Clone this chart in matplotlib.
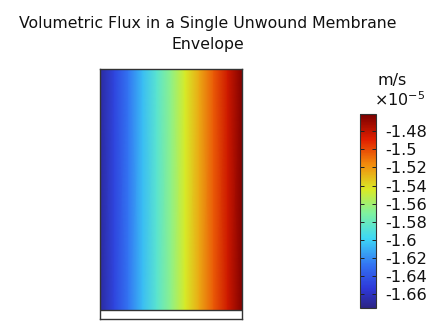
import numpy as np
import matplotlib
matplotlib.use('Agg')
import matplotlib.pyplot as plt
from matplotlib.colors import LinearSegmentedColormap

# flux across the envelope width (x 1e-5 m/s), read left to right
x_frac = [0.0, 0.1, 0.2, 0.3, 0.4, 0.5, 0.6, 0.7, 0.8, 0.9, 1.0]
flux = [-1.668, -1.648, -1.627, -1.606, -1.586, -1.566, -1.545, -1.525, -1.504, -1.484, -1.463]
cb_ticks = [-1.48, -1.5, -1.52, -1.54, -1.56, -1.58, -1.6, -1.62, -1.64, -1.66]
cb_labels = ['-1.48', '-1.5', '-1.52', '-1.54', '-1.56', '-1.58', '-1.6', '-1.62', '-1.64', '-1.66']
vmin, vmax = -1.675, -1.461

# rainbow-like map (softer than jet)
rainbow = LinearSegmentedColormap.from_list('rainbow_soft', [
    (0.00, (0.17, 0.14, 0.52)),
    (0.10, (0.18, 0.22, 0.85)),
    (0.22, (0.20, 0.45, 0.95)),
    (0.36, (0.24, 0.85, 0.96)),
    (0.49, (0.50, 0.95, 0.62)),
    (0.61, (0.85, 0.92, 0.15)),
    (0.74, (0.95, 0.55, 0.05)),
    (0.87, (0.88, 0.12, 0.00)),
    (1.00, (0.48, 0.00, 0.00)),
])

fig = plt.figure(figsize=(4.43, 3.32), dpi=100)

ax = fig.add_axes([100/443, 1-319/332, 142/443, 250/332])
X, Y = np.meshgrid(x_frac, [0, 1])
C = np.vstack([flux, flux])
mesh = ax.pcolormesh(X, Y, C, shading='gouraud', cmap=rainbow, vmin=vmin, vmax=vmax)
ax.set_xlim(0, 1)
ax.set_ylim(-9/241, 1)
ax.set_xticks([])
ax.set_yticks([])
ax.axhline(0, color='#333333', lw=1)
for s in ax.spines.values():
    s.set_color('#333333')
    s.set_linewidth(1)

fig.text(208/443, 1-34/332, 'Volumetric Flux in a Single Unwound Membrane\nEnvelope',
         ha='center', va='center', fontsize=11.3, linespacing=1.5, color='#111111')

cax = fig.add_axes([360/443, 1-308/332, 16/443, 194/332])
cb = fig.colorbar(mesh, cax=cax)
cb.set_ticks(cb_ticks)
cb.set_ticklabels(cb_labels)
cb.outline.set_linewidth(0.8)
cb.outline.set_edgecolor('#333333')
cax.tick_params(axis='y', direction='in', length=3, width=0.7, labelsize=11.7,
                left=True, right=True, colors='#222222', labelcolor='#111111', pad=7)
fig.text(392/443, 1-80/332, 'm/s', ha='center', va='center', fontsize=11.5, color='#111111')
fig.text(400/443, 1-100/332, r'$\times10^{-5}$', ha='center', va='center', fontsize=11.5, color='#111111')

fig.savefig('out.png', dpi=100)
